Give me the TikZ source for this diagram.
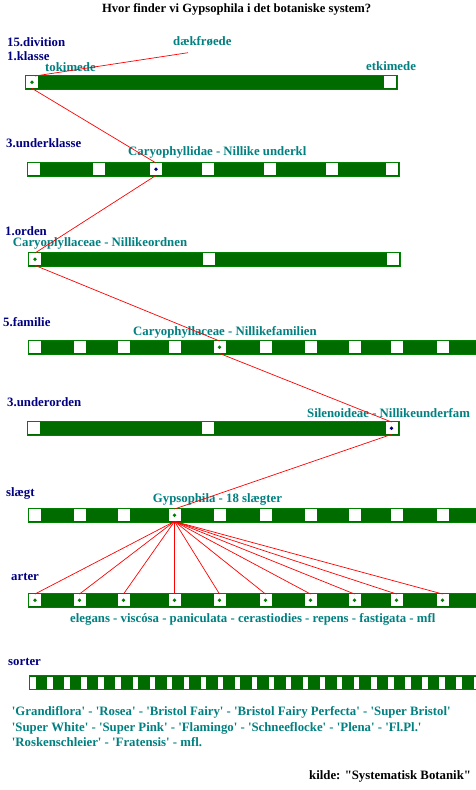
\documentclass[tikz,border=0pt]{standalone}
\usepackage{fontspec}
\setmainfont{Liberation Serif}
\newcommand\sqm{\textquotesingle}
\newcommand\dqm{\textquotedbl}
\definecolor{navyc}{RGB}{0,0,128}
\definecolor{tealc}{RGB}{0,128,128}
\definecolor{bargreen}{RGB}{0,108,0}
\definecolor{barborder}{RGB}{0,128,0}
\definecolor{dotgreen}{RGB}{0,128,0}
\definecolor{linkred}{RGB}{255,0,0}
\begin{document}
\begin{tikzpicture}[x=1pt,y=-1pt,
  lbl/.style={anchor=base west, inner sep=0pt, font=\fontsize{12.8}{15}\selectfont\bfseries},
  rank/.style={lbl, text=navyc},
  taxon/.style={lbl, text=tealc},
  bar/.style={fill=bargreen, draw=barborder, line width=0.8pt},
  hole/.style={fill=white, draw=none, minimum width=12pt, minimum height=12pt, inner sep=0pt},
  link/.style={draw=linkred, line width=0.7pt},
  gdot/.style={fill=dotgreen},
  ndot/.style={fill=navyc}]
\useasboundingbox (0,0) rectangle (476,790);
\fill[white] (0,0) rectangle (476,790);

% title
\node[anchor=base, inner sep=0pt, font=\fontsize{12.6}{15}\selectfont\bfseries] (title) at (236.7,12) {Hvor finder vi Gypsophila i det botaniske system?};

% ---- bar 1: klasse
\draw[bar] (25.5,75.5) rectangle (397,89);
\node[hole] (s11) at (32,82.2) {};
\node[hole] (s12) at (390.2,82.2) {};
\fill[gdot] (s11) circle (1.9pt);
\node[rank] (l15) at (7,46) {15.divition};
\node[rank] (lkl) at (7,60) {1.klasse};
\node[taxon] (ldk) at (173,45) {dækfrøede};
\node[taxon] (ltk) at (45,71) {tokimede};
\node[taxon] (let) at (366,70.5) {etkimede};
\coordinate (dk) at (188,52.7);

% ---- bar 2: underklasse
\draw[bar] (27.5,162.5) rectangle (399,176);
\foreach \n/\x in {1/34,2/98.5,3/156,4/207.5,5/269.5,6/331.5,7/391.5}
  \node[hole] (s2\n) at (\x,169.2) {};
\fill[ndot] (s23) circle (1.9pt);
\node[rank] (luk) at (6,147.3) {3.underklasse};
\node[taxon] (lcy) at (128,155) {Caryophyllidae - Nillike underkl};

% ---- bar 3: orden
\draw[bar] (28.5,252.5) rectangle (400,266);
\foreach \n/\x in {1/35,2/208.5,3/392.5}
  \node[hole] (s3\n) at (\x,259.2) {};
\fill[gdot] (s31) circle (1.9pt);
\node[rank] (lor) at (5,235) {1.orden};
\node[taxon] (lco) at (12.7,246.5) {Caryoplyllaceae - Nillikeordnen};

% ---- bar 4: familie
\draw[bar] (28.5,340.5) rectangle (480,354);
\foreach \n/\x in {1/35,2/79.5,3/123.5,4/174.5,5/219.5,6/265.5,7/310.5,8/354.5,9/396.5,10/442.5}
  \node[hole] (s4\n) at (\x,347.2) {};
\fill[gdot] (s45) circle (1.9pt);
\node[rank] (lfa) at (3,326) {5.familie};
\node[taxon] (lcf) at (133,335.7) {Caryophyllaceae - Nillikefamilien};

% ---- bar 5: underorden
\draw[bar] (27.5,421.5) rectangle (399,435);
\foreach \n/\x in {1/34,2/207.5,3/391.5}
  \node[hole] (s5\n) at (\x,428.2) {};
\fill[ndot] (s53) circle (1.9pt);
\node[rank] (luo) at (7,406.7) {3.underorden};
\node[taxon] (lsi) at (307,417.3) {Silenoideae - Nillikeunderfam};

% ---- bar 6: slaegt
\draw[bar] (28.5,508.5) rectangle (480,522);
\foreach \n/\x in {1/35,2/79.5,3/123.5,4/174.5,5/219.5,6/265.5,7/310.5,8/354.5,9/396.5,10/442.5}
  \node[hole] (s6\n) at (\x,515.2) {};
\fill[gdot] (s64) circle (1.9pt);
\node[rank] (lsl) at (6,496) {slægt};
\node[taxon] (lgy) at (152.7,502.7) {Gypsophila - 18 slægter};

% ---- bar 7: arter
\draw[bar] (28.5,593.5) rectangle (480,607);
\foreach \n/\x in {1/35,2/79.5,3/123.5,4/174.5,5/219.5,6/265.5,7/310.5,8/354.5,9/396.5,10/442.5}{
  \node[hole] (s7\n) at (\x,600.2) {};
  \fill[gdot] (s7\n) circle (1.9pt);
}
\node[rank] (lar) at (11,580) {arter};
\node[taxon] (lel) at (70,622.3) {elegans - viscósa - paniculata - cerastiodies - repens - fastigata - mfl};

% ---- bar 8: sorter
\draw[bar] (29.5,675.5) rectangle (480,689);
\foreach \i in {0,...,26}
  \fill[white] (30.2+17.05*\i,676.5) rectangle ++(5.3,12);
\node[rank] (lso) at (8,665) {sorter};
\node[taxon] (lc1) at (11.7,715.7) {\sqm Grandiflora\sqm{} - \sqm Rosea\sqm{} - \sqm Bristol Fairy\sqm{} - \sqm Bristol Fairy Perfecta\sqm{} - \sqm Super Bristol\sqm};
\node[taxon] (lc2) at (11.7,731.7) {\sqm Super White\sqm{} - \sqm Super Pink\sqm{} - \sqm Flamingo\sqm{} - \sqm Schneeflocke\sqm{} - \sqm Plena\sqm{} - \sqm Fl.Pl.\sqm};
\node[taxon] (lc3) at (11.7,746) {\sqm Roskenschleier\sqm{} - \sqm Fratensis\sqm{} - mfl.};

\node[lbl] (src) at (309,779.3) {kilde: \dqm Systematisk Botanik\dqm};

% ---- connectors
\draw[link] (dk) -- ([xshift=3pt]s11.north);
\draw[link] (s11.south) -- (s23.north);
\draw[link] (s23.south) -- (s31.north);
\draw[link] (s31.south) -- (s45.north);
\draw[link] (s45.south) -- (s53.north);
\draw[link] (s53.south) -- (s64.north);
\foreach \n in {1,...,10}
  \draw[link] (s64.south) -- (s7\n.north);
\end{tikzpicture}
\end{document}
